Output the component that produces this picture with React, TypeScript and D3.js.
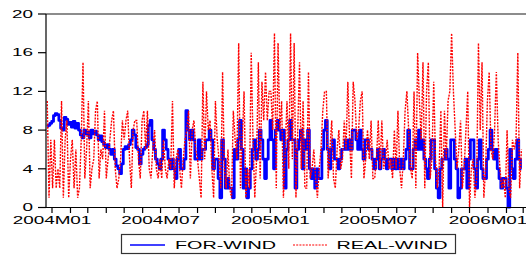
import React, { useEffect, useRef } from 'react';
import * as d3 from 'd3';

// observations every 3 days, first one on 2003-12-24
const startDate = new Date(2003, 11, 24);
const stepDays = 3;

const forWind = [
    8.4, 8.5, 8.7, 8.9, 9.5, 9.7, 9.6, 9.0, 8.2, 8.0,
    9.3, 9.1, 8.6, 8.8, 8.3, 8.9, 8.2, 8.7, 8, 7.5,
    7.2, 8, 7.6, 7.8, 7.2, 8, 7.6, 7.9, 7.5, 7,
    7.4, 6.8, 6.5, 6.2, 6.5, 6, 5.5, 6, 5, 4.3,
    4, 3.5, 4.5, 6, 6.3, 6.1, 6.5, 7, 8, 7.5,
    6.2, 6, 4.5, 5.5, 6, 6.2, 6.5, 8.5, 9, 7,
    6, 5, 4.5, 4, 5, 8,
    7, 6, 5, 4,
    5, 4, 3, 5, 6, 4, 4, 5, 10, 8,
    7, 8, 7, 5, 5, 7, 5, 6, 6, 7,
    7, 8, 7, 4, 5, 5, 3, 1, 7, 5,
    2, 3, 2, 2, 1, 6, 5, 7, 9, 6,
    2, 4, 1, 2, 4, 6, 7, 5, 6, 8,
    7, 5, 3, 5, 7, 9, 7, 4, 8, 9,
    8, 7, 8,
    2, 6, 7, 9, 7, 7, 2,
    6, 7, 8, 4, 7, 6, 8, 4, 3, 4,
    2, 4, 3, 3, 6, 8, 9, 6, 4, 6,
    7, 5, 5, 4, 5, 6, 6, 7, 6, 7,
    6, 8, 8, 7, 6, 8, 6, 5, 7, 7,
    6, 6, 5, 4, 5, 6, 4, 5, 6, 5,
    4, 5, 5, 4, 5, 4, 5, 4, 5,
    4, 5, 6, 8, 4, 4, 6, 7, 6, 8, 6,
    7, 5, 4, 3, 5, 7, 7, 4, 2, 1,
    4, 5, 5, 6, 5, 2, 7, 7, 5, 4,
    1, 2, 4, 4, 5, 2, 5, 7, 7, 4,
    2, 5, 7, 4, 3, 3, 5, 6, 8, 6,
    5, 6, 4, 3, 2, 3, 3, 2, 0, 6,
    4, 3, 5, 7, 5, 4
];

const realWind = [
    11, 1, 7, 2, 7, 2, 4, 2, 11, 1,
    7, 9, 1, 5, 7, 2, 6, 1, 2, 7,
    15, 3, 6, 11, 2, 4, 5, 10, 11, 3,
    6, 5, 10, 3, 5, 7, 9, 10, 4, 2,
    3, 5, 9, 7, 9, 10, 5, 2, 8, 9,
    9, 5, 3, 9, 10, 6, 10, 4, 3, 6,
    8, 4, 3, 5, 3, 7,
    4, 3, 5, 4,
    11, 2, 5, 6, 4, 2, 5, 7, 8, 10,
    3, 8, 9, 6, 5, 3, 1, 13, 5, 12,
    8, 9, 4, 1, 11, 7, 5, 2, 14, 4,
    2, 6, 2, 1, 10, 7, 5, 17, 2, 7,
    12, 1, 4, 2, 16, 7, 1, 5, 15, 3,
    13, 9, 14, 9, 12, 12, 8, 18, 2, 17,
    8, 11, 1,
    6, 11, 4, 18, 5, 17, 1,
    8, 15, 4, 11, 2, 2, 14, 3, 4, 6,
    3, 1, 4, 6, 10, 12, 12, 3, 6, 9,
    3, 2, 6, 8, 4, 5, 9, 6, 13, 7,
    3, 13, 11, 7, 8, 11, 12, 3, 5, 8,
    5, 9, 3, 3, 5, 9, 4, 9, 4, 5,
    7, 4, 5, 3, 8, 4, 10, 4, 2,
    5, 10, 12, 8, 4, 3, 12, 2, 16, 11, 7,
    15, 2, 12, 15, 3, 5, 13, 5, 2, 4,
    10, 0, 10, 5, 11, 12, 18, 12, 8, 4,
    6, 9, 2, 4, 8, 12, 0, 4, 5, 1,
    3, 17, 8, 15, 1, 4, 11, 14, 6, 5,
    8, 14, 7, 4, 2, 3, 1, 8, 2, 1,
    7, 6, 7, 16, 2, 6
];

const yTicks = [0, 4, 8, 12, 16, 20];
const xLabels = ['2004M01', '2004M07', '2005M01', '2005M07', '2006M01'];
const xLabelDates = [new Date(2004, 0, 1), new Date(2004, 6, 1), new Date(2005, 0, 1), new Date(2005, 6, 1), new Date(2006, 0, 1)];

const W = 526;
const H = 257;
const SX = 1.8; // the original picture is stretched sideways

const Chart = () => {
    const svgRef = useRef();

    useEffect(() => {
        d3.select('body').style('margin', 0);
        const svg = d3.select(svgRef.current);
        svg.selectAll('*').remove();

        const left = 46, top = 14, bottom = 207.5, right = W + 2;

        const dateAt = i => d3.timeDay.offset(startDate, i * stepDays);

        const x = d3.scaleTime()
            .domain([xLabelDates[0], xLabelDates[4]])
            .range([52, 488]);
        const y = d3.scaleLinear().domain([0, 20]).range([bottom, top]);

        svg.append('rect').attr('width', W).attr('height', H).attr('fill', '#fff');

        svg.append('defs').append('clipPath').attr('id', 'plot')
            .append('rect').attr('x', left).attr('y', top - 1).attr('width', right - left).attr('height', bottom - top + 2);

        // frame
        svg.append('line').attr('x1', left).attr('x2', right).attr('y1', top).attr('y2', top)
            .attr('stroke', '#666').attr('stroke-width', 1.5);

        const plot = svg.append('g').attr('clip-path', 'url(#plot)');

        const line = d3.line()
            .x((d, i) => x(dateAt(i)))
            .y(d => y(d));

        // forecast looks stair-stepped in the original (integer daily values)
        plot.append('path')
            .datum(forWind)
            .attr('fill', 'none')
            .attr('stroke', '#0000ff')
            .attr('stroke-width', 2.8)
            .attr('stroke-linejoin', 'round')
            .attr('d', line.curve(d3.curveStep)(forWind));

        plot.append('path')
            .datum(realWind)
            .attr('fill', 'none')
            .attr('stroke', '#ff0000')
            .attr('stroke-width', 1.4)
            .attr('stroke-dasharray', '2,1.2')
            .attr('d', line.curve(d3.curveLinear)(realWind));

        // axes
        svg.append('line').attr('x1', left).attr('x2', left).attr('y1', top).attr('y2', bottom)
            .attr('stroke', '#000').attr('stroke-width', 1.2);
        svg.append('line').attr('x1', left).attr('x2', right).attr('y1', bottom).attr('y2', bottom)
            .attr('stroke', '#000').attr('stroke-width', 1.2);

        yTicks.forEach(t => {
            svg.append('line').attr('x1', 38).attr('x2', left).attr('y1', y(t)).attr('y2', y(t))
                .attr('stroke', '#000').attr('stroke-width', 1.2);
            svg.append('g')
                .attr('transform', `translate(33,${y(t) + 3.7}) scale(${SX},1)`)
                .append('text')
                .attr('text-anchor', 'end')
                .attr('font-family', 'Liberation Sans, Arial, sans-serif')
                .attr('font-size', 10.5)
                .text(t);
        });

        const months = d3.timeMonth.range(new Date(2004, 0, 1), new Date(2006, 2, 2));
        months.forEach(m => {
            svg.append('line').attr('x1', x(m)).attr('x2', x(m)).attr('y1', bottom).attr('y2', bottom + 5.5)
                .attr('stroke', '#000').attr('stroke-width', 1.2);
        });

        xLabels.forEach((lab, i) => {
            svg.append('g')
                .attr('transform', `translate(${x(xLabelDates[i])},224) scale(${SX},1)`)
                .append('text')
                .attr('text-anchor', 'middle')
                .attr('font-family', 'Liberation Sans, Arial, sans-serif')
                .attr('font-size', 10.5)
                .text(lab);
        });

        // legend
        const lg = svg.append('g');
        lg.append('rect').attr('x', 121.5).attr('y', 234.5).attr('width', 334).attr('height', 19)
            .attr('fill', '#fff').attr('stroke', '#333').attr('stroke-width', 1.2);
        lg.append('line').attr('x1', 130).attr('x2', 165).attr('y1', 245).attr('y2', 245)
            .attr('stroke', '#0000ff').attr('stroke-width', 1.6);
        lg.append('line').attr('x1', 293).attr('x2', 327).attr('y1', 245).attr('y2', 245)
            .attr('stroke', '#ff0000').attr('stroke-width', 1.2).attr('stroke-dasharray', '2,1.2');
        [['FOR-WIND', 175], ['REAL-WIND', 336.5]].forEach(([txt, lx]) => {
            lg.append('g')
                .attr('transform', `translate(${lx},249.3) scale(${SX},1)`)
                .append('text')
                .attr('font-family', 'Liberation Sans, Arial, sans-serif')
                .attr('font-size', 11)
                .text(txt);
        });

        svg.attr('width', W);
        svg.attr('height', H);
    }, []);

    return <svg ref={svgRef} width={W} height={H} style={{ display: 'block' }} />;
};

export default function App() {
    return <Chart />;
}
